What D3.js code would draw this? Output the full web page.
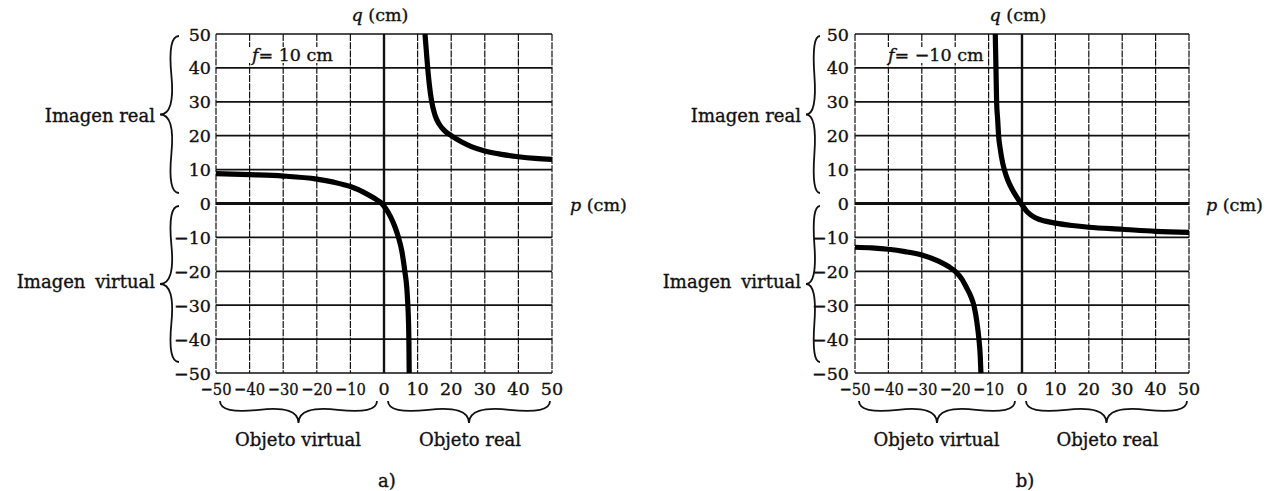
<!DOCTYPE html>
<html><head><meta charset="utf-8">
<script src="https://cdn.jsdelivr.net/npm/d3@7"></script>
<style>body{margin:0;background:#fff}svg{display:block}text{font-family:"DejaVu Serif",serif;fill:#111;stroke:#111;stroke-width:0.35px}</style>
</head><body>
<svg id="c" width="1278" height="491"></svg>
<script>
// ---- data ----
const ticks = [-50,-40,-30,-20,-10,0,10,20,30,40,50];
const tickLabels = ["\u221250","\u221240","\u221230","\u221220","\u221210","0","10","20","30","40","50"];
const yTickLabels = ["\u221250","\u221240","\u221230","\u221220","\u221210","0","10","20","30","40","50"];
// panel a (f = 10 cm)
const aRightP = [12.2,12.6,13,13.5,14.2,15.2,16.5,18,20,23,26,30,35,40,45,50];
const aRightQ = [50,45,40,35,30,26,23.3,21.5,20,18.2,16.8,15.5,14.5,13.8,13.3,13];
const aLeftP = [-50,-40,-30,-20,-15,-10,-6,-3,-1,0.5,2,3.3,4.3,5.3,6.2,6.8,7.1,7.3,7.4,7.5];
const aLeftQ = [8.8,8.5,8.1,7.2,6.3,5,3.3,1.6,0.3,-1.5,-4,-7,-10,-14,-20,-25,-30,-35,-40,-50];
// panel b (f = -10 cm)
const bUpperP = [-8.0,-7.8,-7.6,-7.3,-7.0,-6.5,-5.8,-5.3,-4.3,-3,-1.5,-0.3,1.6,4,7,10,15,20,30,40,50];
const bUpperQ = [50,40,30,25,20,16,12,10,7,4.3,1.8,0,-2.5,-4.2,-5.2,-5.8,-6.5,-7,-7.6,-8.2,-8.5];
const bLowerP = [-50,-45,-40,-35,-30,-25,-22,-20,-18,-16.5,-15.5,-14.3,-13.5,-12.9,-12.5,-12.3];
const bLowerQ = [-12.9,-13.1,-13.5,-14.2,-15.2,-17,-18.6,-20,-22.3,-25,-27,-30.5,-35,-40,-45,-50];

const svg = d3.select("#c");

function brace(x1,y1,x2,y2,w,q){
  let dx=x1-x2, dy=y1-y2; const len=Math.sqrt(dx*dx+dy*dy); dx/=len; dy/=len;
  const qx1=x1+q*w*dy, qy1=y1-q*w*dx;
  const qx2=(x1-.25*len*dx)+(1-q)*w*dy, qy2=(y1-.25*len*dy)-(1-q)*w*dx;
  const tx1=(x1-.5*len*dx)+w*dy, ty1=(y1-.5*len*dy)-w*dx;
  const qx3=x2+q*w*dy, qy3=y2-q*w*dx;
  const qx4=(x1-.75*len*dx)+(1-q)*w*dy, qy4=(y1-.75*len*dy)-(1-q)*w*dx;
  return `M${x1},${y1}Q${qx1},${qy1} ${qx2},${qy2}T${tx1},${ty1}M${x2},${y2}Q${qx3},${qy3} ${qx4},${qy4}T${tx1},${ty1}`;
}

function panel(cfg){
  const x = d3.scaleLinear().domain([-50,50]).range([cfg.left, cfg.right]);
  const y = d3.scaleLinear().domain([-50,50]).range([373,34]);
  const g = svg.append("g");
  // grid
  g.selectAll(".vg").data(ticks).join("line")
    .attr("x1",d=>x(d)).attr("x2",d=>x(d)).attr("y1",y(50)).attr("y2",y(-50))
    .attr("stroke","#111").attr("stroke-width",d=>d===0?2.4:1.2)
    .attr("stroke-dasharray",d=>d===0?null:"7,1.2");
  g.selectAll(".hg").data(ticks).join("line")
    .attr("y1",d=>y(d)).attr("y2",d=>y(d)).attr("x1",x(-50)).attr("x2",x(50))
    .attr("stroke","#111").attr("stroke-width",d=>d===0?2.8:1.7);
  // f label with white box
  const ft = g.append("text").attr("x",cfg.fx).attr("y",61).attr("font-size",17.5);
  ft.append("tspan").attr("font-style","italic").text("f");
  ft.append("tspan").text(cfg.ftext);
  const bb = ft.node().getBBox();
  g.insert("rect","text").attr("x",bb.x-1).attr("y",bb.y+2).attr("width",bb.width+2).attr("height",bb.height-4).attr("fill","#fff");
  // curves
  const clipId = "clip"+cfg.id;
  svg.append("clipPath").attr("id",clipId).append("rect")
    .attr("x",x(-50)).attr("y",y(50)).attr("width",x(50)-x(-50)).attr("height",y(-50)-y(50));
  const line = d3.line().x(d=>x(d[0])).y(d=>y(d[1])).curve(d3.curveMonotoneX);
  cfg.series.forEach(s=>{
    g.append("path").attr("clip-path",`url(#${clipId})`)
      .attr("d",line(d3.zip(s[0],s[1]))).attr("fill","none")
      .attr("stroke","#000").attr("stroke-width",5.2).attr("stroke-linecap","butt");
  });
  // y tick labels
  g.selectAll(".yl").data(ticks).join("text")
    .attr("x",cfg.ylabX).attr("y",d=>y(d)+6.5).attr("text-anchor","end").attr("font-size",17.5)
    .text((d,i)=>yTickLabels[i]);
  // x tick labels
  g.selectAll(".xl").data(ticks).join("text")
    .attr("x",d=>x(d)).attr("y",395).attr("text-anchor","middle").attr("font-size",17.5)
    .attr("textLength",d=>d<0?31:null).attr("lengthAdjust","spacingAndGlyphs")
    .text((d,i)=>tickLabels[i]);
  // axis titles
  const qt = g.append("text").attr("x",x(0)-4).attr("y",21).attr("text-anchor","middle").attr("font-size",17.5);
  qt.append("tspan").attr("font-style","italic").text("q");
  qt.append("tspan").text(" (cm)");
  const pt = g.append("text").attr("x",cfg.px).attr("y",211).attr("font-size",17.5);
  pt.append("tspan").attr("font-style","italic").text("p");
  pt.append("tspan").text(" (cm)");
  // left braces
  g.append("path").attr("d",brace(cfg.braceX,36,cfg.braceX,193,cfg.braceW,0.6)).attr("fill","none").attr("stroke","#111").attr("stroke-width",1.8);
  g.append("path").attr("d",brace(cfg.braceX,206,cfg.braceX,362,cfg.braceW,0.6)).attr("fill","none").attr("stroke","#111").attr("stroke-width",1.8);
  g.append("text").attr("x",cfg.braceX-cfg.braceW-5).attr("y",122).attr("text-anchor","end").attr("font-size",18).text("Imagen real");
  g.append("text").attr("x",cfg.braceX-cfg.braceW-5).attr("y",288).attr("text-anchor","end").attr("font-size",18).attr("word-spacing","4px").text("Imagen virtual");
  // bottom braces
  g.append("path").attr("d",brace(x(-50)+4,401,x(0)-7,401,22,0.6)).attr("fill","none").attr("stroke","#111").attr("stroke-width",1.8);
  g.append("path").attr("d",brace(x(0)+4,401,x(50)-2,401,22,0.6)).attr("fill","none").attr("stroke","#111").attr("stroke-width",1.8);
  g.append("text").attr("x",(x(-50)+x(0))/2-2).attr("y",446).attr("text-anchor","middle").attr("font-size",18).text("Objeto virtual");
  g.append("text").attr("x",(x(0)+x(50))/2+2).attr("y",446).attr("text-anchor","middle").attr("font-size",18).text("Objeto real");
  g.append("text").attr("x",x(0)+3).attr("y",487).attr("text-anchor","middle").attr("font-size",18).text(cfg.tag);
}

panel({id:"a",left:216,right:552,fx:252,ftext:"= 10 cm",ylabX:211,px:570,braceX:179,braceW:19,tag:"a)",
  series:[[aRightP,aRightQ],[aLeftP,aLeftQ]]});
panel({id:"b",left:855,right:1189,fx:888,ftext:"= \u221210 cm",ylabX:849,px:1206,braceX:820,braceW:14,tag:"b)",
  series:[[bUpperP,bUpperQ],[bLowerP,bLowerQ]]});
</script>
</body></html>
